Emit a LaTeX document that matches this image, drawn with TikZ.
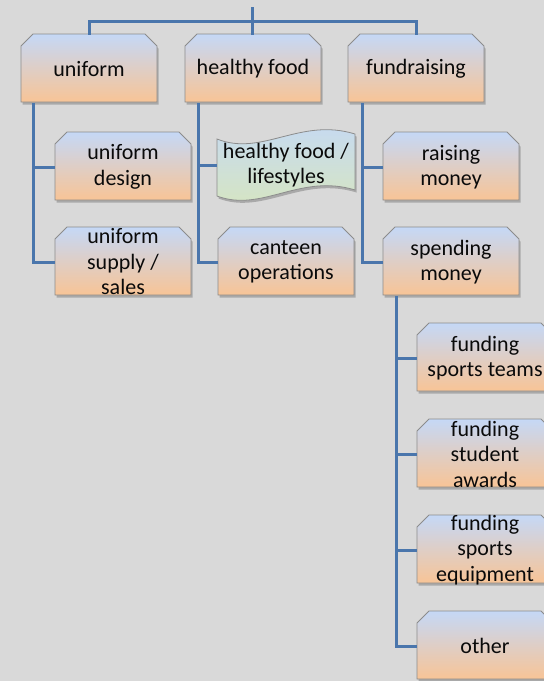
\documentclass[tikz,border=0pt]{standalone}
\usepackage{fontspec}
\setmainfont{Carlito}
\definecolor{bg}{RGB}{217,217,217}
\definecolor{conncol}{RGB}{74,118,172}
\definecolor{boxtop}{RGB}{197,216,246}
\definecolor{boxbot}{RGB}{248,196,150}
\definecolor{boxedge}{RGB}{140,140,140}
\definecolor{wavetop}{RGB}{197,217,245}
\definecolor{wavebot}{RGB}{215,230,190}
\definecolor{txt}{RGB}{10,10,10}
\tikzset{
  connector/.style={draw=conncol, line width=3pt},
  boxfill/.style={top color=boxtop, bottom color=boxbot, draw=boxedge, line width=0.8pt},
  boxshadow/.style={fill=black, opacity=0.22},
  boxtext/.style={inner sep=0pt, minimum width=136pt, minimum height=68pt, align=center,
    font=\fontsize{22pt}{25.5pt}\selectfont, text=txt}
}
\newcommand\chbox[4]{%
  \fill[boxshadow] ({#2+1.5},{#3+12+2.5}) -- ({#2+12+1.5},{#3+2.5}) -- ({#2+124+1.5},{#3+2.5}) -- ({#2+136+1.5},{#3+12+2.5}) -- ({#2+136+1.5},{#3+68+2.5}) -- ({#2+1.5},{#3+68+2.5}) -- cycle;
  \shade[boxfill] ({#2},{#3+12}) -- ({#2+12},{#3}) -- ({#2+124},{#3}) -- ({#2+136},{#3+12}) -- ({#2+136},{#3+68}) -- ({#2},{#3+68}) -- cycle;
  \node[boxtext] (#1) at ({#2+68},{#3+35}) {#4};
}
\begin{document}
\begin{tikzpicture}[x=1pt,y=-1pt]
\fill[bg] (0,0) rectangle (544,681);
\useasboundingbox (0,0) rectangle (544,681);
\clip (0,0) rectangle (544,681);
% top row
\chbox{u}{21}{34}{uniform}
\chbox{hf}{185}{34}{healthy food}
\chbox{f}{348}{34}{fundraising}
% second level
\chbox{ud}{55}{132}{uniform\\design}
\chbox{us}{55}{227}{uniform\\supply /\\sales}
\fill[boxshadow] (218.5,141.5) .. controls (263.5,159.5) and (301.5,119.5) .. (356.5,136.5) -- (356.5,192.5) .. controls (301.5,175.5) and (263.5,215.5) .. (218.5,198.5) -- cycle;
\shade[top color=wavetop, bottom color=wavebot, draw=boxedge, line width=0.8pt] (217,139) .. controls (262,157) and (300,117) .. (355,134) -- (355,190) .. controls (300,173) and (262,213) .. (217,196) -- cycle;
\node[boxtext, minimum width=138pt] (hfl) at (286,165) {healthy food /\\lifestyles};
\chbox{co}{218}{227}{canteen\\operations}
\chbox{rm}{383}{132}{raising\\money}
\chbox{sm}{383}{227}{spending\\money}
% third level
\chbox{st}{417}{323}{funding\\sports teams}
\chbox{sa}{417}{419}{funding\\student\\awards}
\chbox{se}{417}{515}{funding\\sports\\equipment}
\chbox{ot}{417}{611}{other}
% connectors
\coordinate (root) at (252,7);
\draw[connector] (root) -- (root |- hf.north);
\draw[connector] (u.north) -- ++(0,-13) -| (f.north);
\draw[connector] ([xshift=13pt]u.south west) |- (ud.west);
\draw[connector] ([xshift=13pt]u.south west) |- (us.west);
\draw[connector] ([xshift=14pt]hf.south west) |- (hfl.west);
\draw[connector] ([xshift=14pt]hf.south west) |- (co.west);
\draw[connector] ([xshift=14.5pt]f.south west) |- (rm.west);
\draw[connector] ([xshift=14.5pt]f.south west) |- (sm.west);
\draw[connector] ([xshift=13.5pt]sm.south west) |- (st.west);
\draw[connector] ([xshift=13.5pt]sm.south west) |- (sa.west);
\draw[connector] ([xshift=13.5pt]sm.south west) |- (se.west);
\draw[connector] ([xshift=13.5pt]sm.south west) |- (ot.west);
\end{tikzpicture}
\end{document}
